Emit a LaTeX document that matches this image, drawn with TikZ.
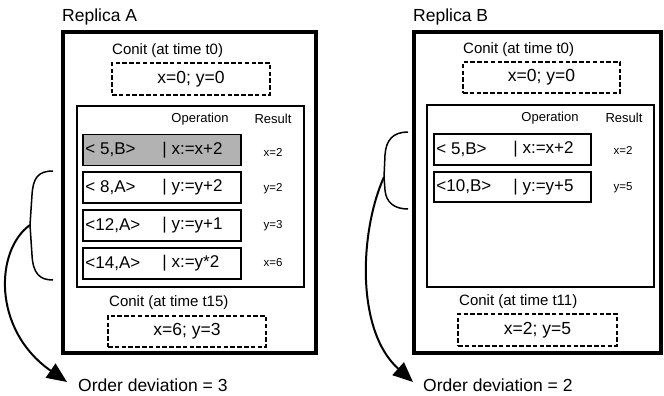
\documentclass[tikz,border=0pt]{standalone}
\usepackage{fontspec}
\setmainfont{Liberation Sans}
\usetikzlibrary{arrows.meta}
\begin{document}
\begin{tikzpicture}[x=1pt,y=-1pt,
  big/.style={font=\fontsize{17.5}{20}\selectfont},
  row/.style={font=\fontsize{17}{20}\selectfont},
  mid/.style={font=\fontsize{15}{18}\selectfont},
  small/.style={font=\fontsize{13}{15}\selectfont},
  tiny/.style={font=\fontsize{11.5}{13}\selectfont},
  lbl/.style={inner sep=0pt, anchor=west},
  baselbl/.style={inner sep=0pt, anchor=base west},
  txt/.style={inner sep=0pt},
  replica/.style={draw, line width=4pt, inner sep=0pt},
  oplist/.style={draw, line width=2.5pt, inner sep=0pt},
  conit/.style={draw, line width=2.2pt, dash pattern=on 4.5pt off 2.3pt, big, inner sep=0pt},
  opbox/.style={draw, line width=1.5pt, minimum width=158pt, minimum height=31pt, inner sep=0pt},
  brace/.style={line width=1.5pt},
  devarrow/.style={line width=2pt, -{Triangle[length=20pt,width=17pt]}}
]
\useasboundingbox (0,0) rectangle (664,396);

% ---------------- Replica A ----------------
\node[big, baselbl] (repA) at (62,22) {Replica A};
\node[replica, minimum width=253pt, minimum height=321pt] (outA) at (189.5,192.5) {};

\node[mid, lbl] (cA0lbl) at (112,51) {Conit (at time t0)};
\node[conit, minimum width=158pt, minimum height=32pt] (cA0) at (191,79) {x=0; y=0};

\node[oplist, minimum width=227pt, minimum height=181pt] (listA) at (190.5,196.5) {};
\node[small, txt] (opA) at (200,119) {Operation};
\node[small, txt] (resA) at (273,119) {Result};

\node[opbox, fill=black!30] (a1) at (162,150) {};
\node[row, lbl] (a1id) at ([xshift=3pt]a1.west) {< 5,B>};
\node[row, lbl] (a1op) at ([xshift=80pt]a1.west) {| x:=x+2};
\node[tiny, txt] (a1r) at (273,152) {x=2};

\node[opbox] (a2) at (162,187.5) {};
\node[row, lbl] (a2id) at ([xshift=3pt]a2.west) {< 8,A>};
\node[row, lbl] (a2op) at ([xshift=80pt]a2.west) {| y:=y+2};
\node[tiny, txt] (a2r) at (273,189) {y=2};

\node[opbox] (a3) at (162,225.5) {};
\node[row, lbl] (a3id) at ([xshift=3pt]a3.west) {<12,A>};
\node[row, lbl] (a3op) at ([xshift=80pt]a3.west) {| y:=y+1};
\node[tiny, txt] (a3r) at (273,226) {y=3};

\node[opbox] (a4) at (162,263.5) {};
\node[row, lbl] (a4id) at ([xshift=3pt]a4.west) {<14,A>};
\node[row, lbl] (a4op) at ([xshift=80pt]a4.west) {| x:=y*2};
\node[tiny, txt] (a4r) at (273,263) {x=6};

\node[mid, lbl] (cA1lbl) at (109,303) {Conit (at time t15)};
\node[conit, minimum width=158pt, minimum height=31pt] (cA1) at (187,331.5) {x=6; y=3};

\node[big, baselbl] (devA) at (78,391) {Order deviation = 3};

% brace over the last three operations of A, with its arrow
\coordinate (bAtop) at (53,171);
\coordinate (bAmid) at (30,225);
\coordinate (bAbot) at (53,280);
\coordinate (tipA) at (67,382);
\draw[brace] (bAtop) .. controls (38,171) and (33,178) .. (32,195)
  -- (bAmid) -- (32,255) .. controls (33,274) and (40,280) .. (bAbot);
\draw[devarrow] (bAmid) .. controls (-5,250) and (-8,330) .. (tipA);

% ---------------- Replica B ----------------
\node[big, baselbl] (repB) at (413,22) {Replica B};
\node[replica, minimum width=247pt, minimum height=321pt] (outB) at (537.5,192.5) {};

\node[mid, lbl] (cB0lbl) at (463,50) {Conit (at time t0)};
\node[conit, minimum width=157pt, minimum height=31pt] (cB0) at (541.5,77.5) {x=0; y=0};

\node[oplist, minimum width=227pt, minimum height=182pt] (listB) at (540.5,196) {};
\node[small, txt] (opB) at (550,118) {Operation};
\node[small, txt] (resB) at (624,118) {Result};

\node[opbox, minimum width=157pt] (b1) at (512.5,149.5) {};
\node[row, lbl] (b1id) at ([xshift=3pt]b1.west) {< 5,B>};
\node[row, lbl] (b1op) at ([xshift=80pt]b1.west) {| x:=x+2};
\node[tiny, txt] (b1r) at (623,150) {x=2};

\node[opbox, minimum width=157pt, minimum height=30pt] (b2) at (512.5,187) {};
\node[row, lbl] (b2id) at ([xshift=3pt]b2.west) {<10,B>};
\node[row, lbl] (b2op) at ([xshift=80pt]b2.west) {| y:=y+5};
\node[tiny, txt] (b2r) at (623,188) {y=5};

\node[mid, lbl] (cB1lbl) at (459,302) {Conit (at time t11)};
\node[conit, minimum width=159pt, minimum height=32pt] (cB1) at (537.5,330) {x=2; y=5};

\node[big, baselbl] (devB) at (423,391) {Order deviation = 2};

% brace over both operations of B, with its arrow
\coordinate (bBtop) at (408,132);
\coordinate (bBmid) at (384,177);
\coordinate (bBbot) at (408,209);
\coordinate (tipB) at (413,382);
\draw[brace] (bBtop) .. controls (393,132) and (386,140) .. (385,155)
  -- (bBmid) -- (385,190) .. controls (386,203) and (395,209) .. (bBbot);
\draw[devarrow] (bBmid) .. controls (360,230) and (355,330) .. (tipB);
\end{tikzpicture}
\end{document}
